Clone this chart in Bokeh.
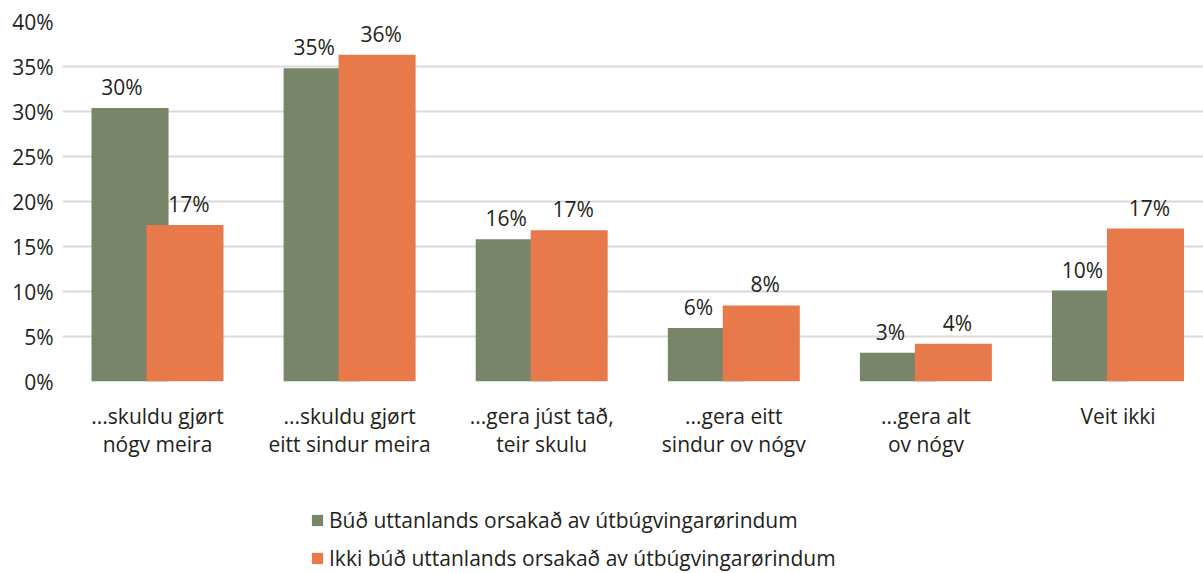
from bokeh.plotting import figure
from bokeh.layouts import column
from bokeh.models import (ColumnDataSource, Range1d, FixedTicker, Legend, LegendItem)
from bokeh.transform import dodge
from bokeh.core.properties import value
from bokeh.embed import file_html
from bokeh.resources import INLINE

categories = ["...skuldu gjørt\nnógv meira", "...skuldu gjørt\neitt sindur meira",
              "...gera júst tað,\nteir skulu", "...gera eitt\nsindur ov nógv",
              "...gera alt\nov nógv", "Veit ikki"]
series_names = ["Búð uttanlands orsakað av útbúgvingarørindum",
                "Ikki búð uttanlands orsakað av útbúgvingarørindum"]
abroad = [30.4, 34.8, 15.8, 5.95, 3.2, 10.1]
not_abroad = [17.4, 36.3, 16.8, 8.45, 4.2, 17.0]
y_ticks = [0, 5, 10, 15, 20, 25, 30, 35, 40]

GREEN = "#788568"
ORANGE = "#e8794b"
TEXT = "#231f20"
FONT = "Open Sans"
FS = "21px"

idx = list(range(len(categories)))
src = ColumnDataSource(dict(
    x=idx, a=abroad, n=not_abroad,
    a_lbl=[f"{round(v)}%" for v in abroad],
    n_lbl=[f"{round(v)}%" for v in not_abroad],
))

TOP_H = 470
p = figure(width=1203, height=TOP_H, output_backend="svg", toolbar_location=None,
           x_range=Range1d(-0.4945, 5.445), y_range=Range1d(0, 40),
           min_border_left=62, min_border_right=0, min_border_top=21,
           min_border_bottom=TOP_H - 381)
p.outline_line_color = None
p.background_fill_color = "white"
p.border_fill_color = "white"

OFF = 0.143
W = 0.401
p.vbar(x=dodge("x", -OFF, range=p.x_range), top="a", width=W, source=src,
       fill_color=GREEN, line_color=None)
p.vbar(x=dodge("x", OFF, range=p.x_range), top="n", width=W, source=src,
       fill_color=ORANGE, line_color=None)

p.text(x=dodge("x", -OFF, range=p.x_range), y="a", text="a_lbl", source=src,
       text_align="center", text_baseline="alphabetic", x_offset=-8, y_offset=-21,
       text_font=value(FONT), text_font_size=FS, text_color=TEXT)
p.text(x=dodge("x", OFF, range=p.x_range), y="n", text="n_lbl", source=src,
       text_align="center", text_baseline="alphabetic", x_offset=4, y_offset=-21,
       text_font=value(FONT), text_font_size=FS, text_color=TEXT)

# axes
p.xaxis.ticker = FixedTicker(ticks=idx)
p.xaxis.major_label_overrides = {i: c for i, c in zip(idx, categories)}
p.yaxis.ticker = FixedTicker(ticks=y_ticks)
p.yaxis.major_label_overrides = {t: f"{t}%" for t in y_ticks}
for ax in (p.xaxis[0], p.yaxis[0]):
    ax.axis_line_color = None
    ax.major_tick_line_color = None
    ax.minor_tick_line_color = None
    ax.major_tick_out = 0
    ax.major_tick_in = 0
    ax.minor_tick_out = 0
    ax.minor_tick_in = 0
    ax.major_label_text_font = FONT
    ax.major_label_text_font_size = FS
    ax.major_label_text_color = TEXT
p.yaxis.major_label_standoff = 9
p.xaxis.major_label_standoff = 20
p.xaxis.major_label_text_line_height = 1.0

p.xgrid.grid_line_color = None
p.ygrid.ticker = FixedTicker(ticks=y_ticks)
p.ygrid.grid_line_color = "#d9d9d9"
p.ygrid.grid_line_width = 2

# legend panel (frame aligned with the chart above)
LEG_H = 573 - TOP_H
pl = figure(width=1203, height=LEG_H, output_backend="svg", toolbar_location=None,
            x_axis_location=None, y_axis_location=None,
            x_range=Range1d(0, 1), y_range=Range1d(0, 1),
            min_border=0)
pl.outline_line_color = None
pl.grid.visible = False
l1 = pl.vbar(x=[-10], top=[0], width=0.1, fill_color=GREEN, line_color=None)
l2 = pl.vbar(x=[-10], top=[0], width=0.1, fill_color=ORANGE, line_color=None)
legend = Legend(items=[LegendItem(label=series_names[0], renderers=[l1]),
                       LegendItem(label=series_names[1], renderers=[l2])],
                location=(248, 1), orientation="vertical",
                border_line_color=None, background_fill_alpha=0,
                glyph_width=14, glyph_height=14, label_height=22, spacing=10,
                padding=0, margin=0, label_standoff=5,
                label_text_font=FONT, label_text_font_size=FS,
                label_text_color=TEXT)
pl.add_layout(legend, "center")

layout = column(p, pl, spacing=0)
open("out.html", "w").write(file_html(layout, INLINE))
